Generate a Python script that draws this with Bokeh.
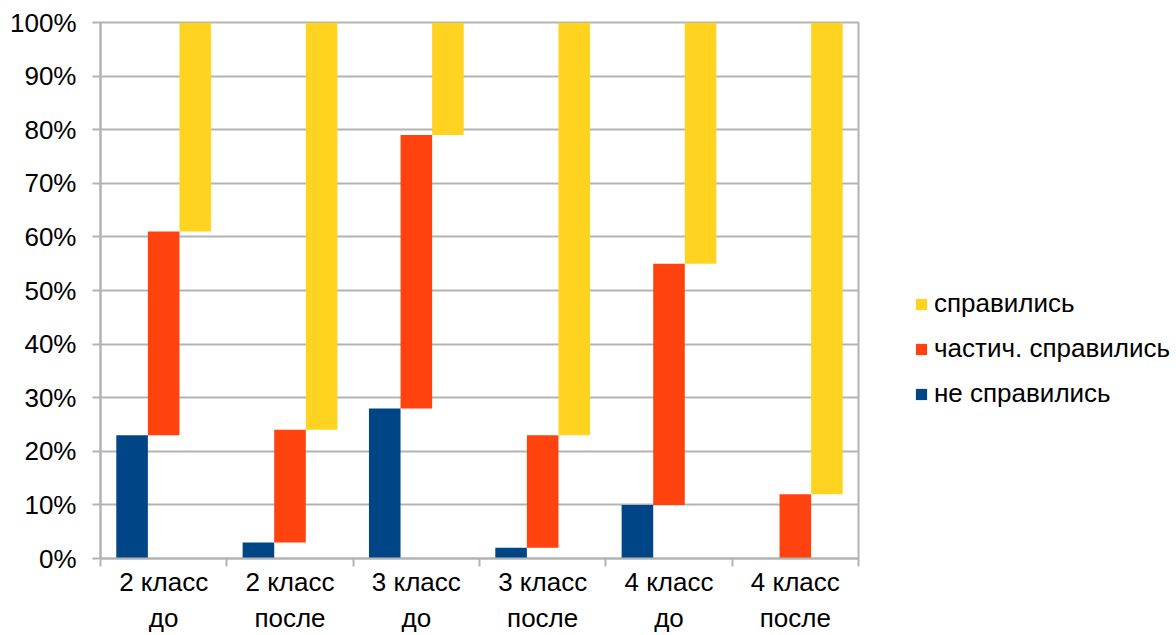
from bokeh.plotting import figure
from bokeh.layouts import row
from bokeh.models import (ColumnDataSource, FixedTicker, Range1d, PrintfTickFormatter,
                          Legend, LegendItem)
from bokeh.embed import file_html
from bokeh.resources import INLINE

# Results per group (percent of pupils)
categories = ["2 класс\nдо", "2 класс\nпосле", "3 класс\nдо",
              "3 класс\nпосле", "4 класс\nдо", "4 класс\nпосле"]
failed = [23, 3, 28, 2, 10, 0]        # не справились
partial = [38, 21, 51, 21, 45, 12]    # частич. справились
passed = [39, 76, 21, 77, 45, 88]     # справились
y_ticks = [0, 10, 20, 30, 40, 50, 60, 70, 80, 90, 100]

series_names = ["не справились", "частич. справились", "справились"]
colors = ["#004586", "#FF420E", "#FFD320"]

FONT = "Liberation Sans"
GRID = "#b3b3b3"

n = len(categories)
centers = [i + 0.5 for i in range(n)]

# ---- chart ----
p = figure(width=860, height=635, output_backend="svg", toolbar_location=None,
           x_range=Range1d(0, n), y_range=Range1d(0, 100),
           min_border_left=100, min_border_right=2,
           min_border_top=22, min_border_bottom=77)
p.background_fill_color = "white"
p.border_fill_color = "white"
p.outline_line_color = GRID
p.outline_line_width = 2

# Each series sits in its own slot, stacked on top of the previous ones
sources = []
bottom = [0] * n
offsets = [-0.25, 0.0, 0.25]
for vals, off, col in zip([failed, partial, passed], offsets, colors):
    top = [b + v for b, v in zip(bottom, vals)]
    src = ColumnDataSource(dict(x=[c + off for c in centers], bottom=bottom, top=top))
    sources.append(src)
    p.vbar(x="x", bottom="bottom", top="top", width=0.25, source=src,
           fill_color=col, line_color=None)
    bottom = top

xa = p.xaxis[0]
xa.ticker = FixedTicker(ticks=centers, minor_ticks=list(range(n + 1)))
xa.major_label_overrides = {c: lab for c, lab in zip(centers, categories)}
xa.major_tick_out = 0
xa.major_tick_in = 0
xa.minor_tick_out = 8
xa.minor_tick_in = 0
xa.minor_tick_line_color = GRID
xa.minor_tick_line_width = 2
xa.axis_line_color = GRID
xa.axis_line_width = 2
xa.major_label_text_font = FONT
xa.major_label_text_font_size = "26px"
xa.major_label_text_color = "black"
xa.major_label_standoff = 0

ya = p.yaxis[0]
ya.ticker = FixedTicker(ticks=y_ticks)
ya.formatter = PrintfTickFormatter(format="%d%%")
ya.major_tick_out = 8
ya.major_tick_in = 0
ya.minor_tick_line_color = None
ya.major_tick_line_color = GRID
ya.major_tick_line_width = 2
ya.axis_line_color = GRID
ya.axis_line_width = 2
ya.major_label_text_font = FONT
ya.major_label_text_font_size = "26px"
ya.major_label_text_color = "black"
ya.major_label_standoff = 16

p.xgrid.grid_line_color = None
p.ygrid.ticker = FixedTicker(ticks=y_ticks)
p.ygrid.grid_line_color = GRID
p.ygrid.grid_line_width = 2

# ---- legend panel ----
lp = figure(width=316, height=635, output_backend="svg", toolbar_location=None,
            x_axis_type=None, y_axis_type=None,
            x_range=Range1d(0, 1), y_range=Range1d(0, 1),
            min_border=0, outline_line_color=None)
lp.xgrid.grid_line_color = None
lp.ygrid.grid_line_color = None
# Hidden key renderers sharing the series data, used only for the legend swatches
keys = []
for src, col in zip(sources, colors):
    k = lp.vbar(x="x", bottom="bottom", top="top", width=0.25, source=src,
                fill_color=col, line_color=None)
    k.visible = False
    keys.append(k)

items = [LegendItem(label=series_names[i], renderers=[keys[i]]) for i in (2, 1, 0)]
legend = Legend(items=items, location=(54, 149), orientation="vertical",
                border_line_color=None, background_fill_alpha=0,
                inactive_fill_alpha=0,
                padding=0, margin=0, spacing=14,
                glyph_width=14, glyph_height=14, label_standoff=6,
                label_text_font=FONT, label_text_font_size="26px",
                label_text_color="black")
lp.add_layout(legend, "center")

layout = row(p, lp, spacing=0)
open("out.html", "w").write(file_html(layout, INLINE))
